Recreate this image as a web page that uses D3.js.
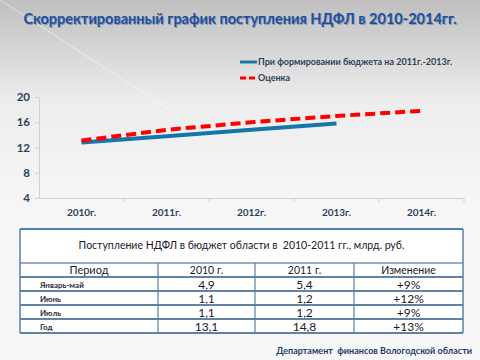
<!DOCTYPE html>
<html><head><meta charset="utf-8">
<script src="https://cdn.jsdelivr.net/npm/d3@7"></script>
<style>html,body{margin:0;padding:0;background:#f5f5f5;}svg{display:block;}text{white-space:pre;}</style>
</head><body>
<svg id="c" width="480" height="360"></svg>
<script>
const years = ["2010г.", "2011г.", "2012г.", "2013г.", "2014г."];
const planValues = [12.8, 13.8, 14.8, 15.8, null];
const estimateValues = [13.1, 14.8, 16.0, 17.0, 17.8];
const yTicks = [4, 8, 12, 16, 20];
const seriesNames = ["При формировании бюджета на 2011г.-2013г.", "Оценка"];
const tableTitle = "Поступление НДФЛ в бюджет области в  2010-2011 гг., млрд. руб.";
const tableHeaders = ["Период", "2010 г.", "2011 г.", "Изменение"];
const periods = ["Январь-май", "Июнь", "Июль", "Год"];
const values2010 = ["4,9", "1,1", "1,1", "13,1"];
const values2011 = ["5,4", "1,2", "1,2", "14,8"];
const changes = ["+9%", "+12%", "+9%", "+13%"];

const svg = d3.select("#c");
const defs = svg.append("defs");
const bg = defs.append("linearGradient").attr("id","bg").attr("x1",0).attr("y1",0).attr("x2",0).attr("y2",1);
bg.append("stop").attr("offset","0").attr("stop-color","#bfbfbf");
bg.append("stop").attr("offset","0.28").attr("stop-color","#ededed");
bg.append("stop").attr("offset","0.6").attr("stop-color","#f7f7f7");
bg.append("stop").attr("offset","1").attr("stop-color","#f7f7f7");
svg.append("rect").attr("width",480).attr("height",360).attr("fill","url(#bg)");
svg.append("line").attr("x1",0).attr("y1",0).attr("x2",170).attr("y2",110).attr("stroke","#ffffff").attr("stroke-opacity",0.5).attr("stroke-width",1);

const tf = "Lato, 'Open Sans', sans-serif";
const title = "Скорректированный график поступления НДФЛ в 2010-2014гг.";
svg.append("text").attr("x",241).attr("y",25).attr("text-anchor","middle")
  .attr("font-family",tf).attr("font-weight","bold").attr("font-size",14.5)
  .attr("fill","#8a9ab0").text(title);
svg.append("text").attr("x",240).attr("y",24).attr("text-anchor","middle")
  .attr("font-family",tf).attr("font-weight","bold").attr("font-size",14.5)
  .attr("fill","#1f4f9c").text(title);

const x = d3.scaleBand().domain(years).range([39,464]);
const y = d3.scaleLinear().domain([4,20]).range([198,97]);

const gy = svg.append("g").attr("transform","translate(39,0)")
  .call(d3.axisLeft(y).tickValues(yTicks).tickSize(4).tickPadding(5));
gy.select(".domain").attr("stroke","#d0d0d0");
gy.selectAll(".tick line").attr("stroke","#d0d0d0");
gy.selectAll("text").attr("font-family",tf).attr("font-weight","bold").attr("font-size",11.5).attr("fill","#2e3f5c");

const gx = svg.append("g").attr("transform","translate(0,198)")
  .call(d3.axisBottom(x).tickSize(0).tickPadding(11));
gx.select(".domain").attr("stroke","#d0d0d0");
gx.selectAll("text").attr("font-family",tf).attr("font-weight","bold").attr("font-size",10).attr("fill","#2e3f5c");
svg.append("g").selectAll("line").data(years.slice(1)).join("line")
  .attr("x1",d=>x(d)).attr("x2",d=>x(d)).attr("y1",198).attr("y2",202).attr("stroke","#d0d0d0");
svg.append("line").attr("x1",x(years[4])+x.bandwidth()).attr("x2",x(years[4])+x.bandwidth()).attr("y1",198).attr("y2",202).attr("stroke","#d0d0d0");

const cx = d => x(d) + x.bandwidth()/2;
const line = d3.line().defined(d=>d.v!=null).x(d=>cx(d.k)).y(d=>y(d.v));
svg.append("path").datum(years.map((k,i)=>({k,v:planValues[i]})))
  .attr("d",line).attr("fill","none").attr("stroke","#1577a8").attr("stroke-width",4);
svg.append("path").datum(years.map((k,i)=>({k,v:estimateValues[i]})))
  .attr("d",line).attr("fill","none").attr("stroke","#ff0000").attr("stroke-width",4).attr("stroke-dasharray","10,5");

const lg = svg.append("g");
lg.append("line").attr("x1",240).attr("x2",257).attr("y1",62).attr("y2",62).attr("stroke","#1577a8").attr("stroke-width",3);
lg.append("line").attr("x1",240).attr("x2",257).attr("y1",78).attr("y2",78).attr("stroke","#ff0000").attr("stroke-width",3).attr("stroke-dasharray","6,3");
lg.selectAll("text").data(seriesNames).join("text")
  .attr("x",258).attr("y",(d,i)=>65+i*16)
  .attr("font-family",tf).attr("font-weight","bold").attr("font-size",9).attr("fill","#2e3f5c").text(d=>d);

const tL = 20, tR = 463, tTop = 229, hdrTop = 263, rowH = 14;
const colX = [20, 158, 255, 354, 463];
const tg = svg.append("g");
tg.append("rect").attr("x",tL).attr("y",tTop).attr("width",tR-tL).attr("height",hdrTop+rowH*5-tTop).attr("fill","#ffffff");
tg.append("text").attr("x",(tL+tR)/2).attr("y",249).attr("text-anchor","middle")
  .attr("font-family",tf).attr("font-size",10.5).attr("fill","#1a1a2a").text(tableTitle);
tableHeaders.forEach((h,i)=>{
  tg.append("text").attr("x",(colX[i]+colX[i+1])/2).attr("y",hdrTop+11).attr("text-anchor","middle")
    .attr("font-family",tf).attr("font-size",i==0?11:10.5).attr("fill","#1a1a2a").text(h);
});
periods.forEach((p,r)=>{
  const yy = hdrTop + rowH*(r+1);
  tg.append("text").attr("x",40).attr("y",yy+11).attr("font-family",tf).attr("font-size",8).attr("font-weight","bold").attr("fill","#2a2a3a").text(p);
  [values2010[r], values2011[r], changes[r]].forEach((v,c)=>{
    tg.append("text").attr("x",(colX[c+1]+colX[c+2])/2).attr("y",yy+11.5).attr("text-anchor","middle")
      .attr("font-family",tf).attr("font-size",12).attr("fill","#1a1a2a").text(v);
  });
});
const hLines = [hdrTop, hdrTop+rowH, hdrTop+rowH*2, hdrTop+rowH*3, hdrTop+rowH*4, hdrTop+rowH*5];
tg.selectAll(".hl").data(hLines).join("line").attr("x1",tL).attr("x2",tR).attr("y1",d=>d).attr("y2",d=>d)
  .attr("stroke","#2d5a8c").attr("stroke-width",(d,i)=>i==0?1:1.5);
tg.selectAll(".vl").data(colX.slice(1,4)).join("line").attr("x1",d=>d).attr("x2",d=>d).attr("y1",hdrTop).attr("y2",hdrTop+rowH*5)
  .attr("stroke","#5a7fa8").attr("stroke-width",1.2);
tg.append("line").attr("x1",tL).attr("x2",tL).attr("y1",tTop).attr("y2",hdrTop+rowH*5).attr("stroke","#5a7fa8").attr("stroke-width",1.5);
tg.append("line").attr("x1",tR).attr("x2",tR).attr("y1",tTop).attr("y2",hdrTop+rowH*5).attr("stroke","#5a7fa8").attr("stroke-width",1.5);
tg.append("line").attr("x1",tL).attr("x2",tR).attr("y1",tTop).attr("y2",tTop).attr("stroke","#4f81bd").attr("stroke-width",2);

svg.append("text").attr("x",472).attr("y",354).attr("text-anchor","end")
  .attr("font-family",tf).attr("font-weight","bold").attr("font-size",9).attr("fill","#1f3a6e")
  .text("Департамент  финансов Вологодской области");
</script>
</body></html>
